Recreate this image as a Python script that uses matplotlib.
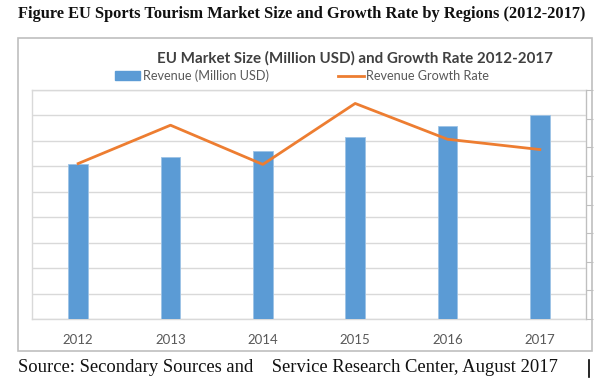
import matplotlib.pyplot as plt
from matplotlib.patches import Rectangle
from matplotlib.lines import Line2D

years = ['2012', '2013', '2014', '2015', '2016', '2017']
revenue = [6100, 6370, 6610, 7140, 7570, 8030]      # million USD
growth_rate = [5.43, 6.77, 5.40, 7.53, 6.28, 5.92]  # % (secondary axis)

W, H = 605, 380
fig = plt.figure(figsize=(W / 100, H / 100), dpi=100)

# outer chart box
fig.add_artist(Rectangle((18 / W, 1 - 351 / H), (592 - 18) / W, (351 - 38) / H,
                         transform=fig.transFigure, fill=False,
                         edgecolor='#bfbfbf', linewidth=1.2))

ax = fig.add_axes([32 / W, 1 - 319 / H, (586 - 32) / W, (319 - 90) / H])
x = range(len(years))
ax.bar(x, revenue, width=0.21, color='#5b9bd5', edgecolor='#9dc3e6',
       linewidth=0.6, zorder=3)
ax.set_ylim(0, 9000)
ax.set_yticks(range(0, 9001, 1000))
ax.set_xlim(-0.5, 5.5)
ax.set_xticks(list(x))
ax.set_xticklabels(years, fontsize=9.5, color='#595959', family='Lato')
ax.tick_params(axis='x', length=0, pad=11)
ax.tick_params(axis='y', length=0, labelleft=False)
ax.grid(axis='y', color='#d9d9d9', linewidth=1, zorder=0)
for s in ax.spines.values():
    s.set_color('#d9d9d9')
    s.set_linewidth(1)

ax2 = ax.twinx()
ax2.plot(x, growth_rate, color='#ed7d31', linewidth=2, zorder=4)
ax2.set_ylim(0, 8)
ax2.set_yticks(range(0, 9))
ax2.tick_params(axis='y', direction='out', length=5, color='#bfbfbf',
                labelright=False)
for s in ax2.spines.values():
    s.set_visible(False)
ax2.spines['right'].set_visible(True)
ax2.spines['right'].set_color('#bfbfbf')

# titles
fig.text(18 / W, 1 - 14 / H,
         'Figure EU Sports Tourism Market Size and Growth Rate by Regions (2012-2017)',
         family='Liberation Serif', fontweight='bold', fontsize=11.8,
         color='#111111', va='center', ha='left')
fig.text(355 / W, 1 - 58 / H,
         'EU Market Size (Million USD) and Growth Rate 2012-2017',
         family='Lato', fontweight='bold', fontsize=10.9, color='#404040',
         va='center', ha='center')

# legend
handles = [Rectangle((0, 0), 1, 1, color='#5b9bd5'),
           Line2D([], [], color='#ed7d31', linewidth=2)]
leg = fig.legend(handles, ['Revenue (Million USD)', 'Revenue Growth Rate'],
                 loc='center', bbox_to_anchor=(302 / W, 1 - 76 / H), ncol=2,
                 frameon=False, fontsize=9.1, columnspacing=5.5,
                 handlelength=2.0, handletextpad=0.2, borderaxespad=0,
                 borderpad=0)
for t in leg.get_texts():
    t.set_color('#595959')
    t.set_family('Lato')

fig.text(18 / W, 1 - 368 / H,
         'Source: Secondary Sources and    Service Research Center, August 2017',
         family='Liberation Serif', fontsize=13.4, color='#111111',
         va='center', ha='left')
fig.add_artist(Line2D([589 / W, 589 / W], [1 - 377 / H, 1 - 360 / H],
                      transform=fig.transFigure, color='black', linewidth=1.2))

fig.savefig('out.png', dpi=100)
